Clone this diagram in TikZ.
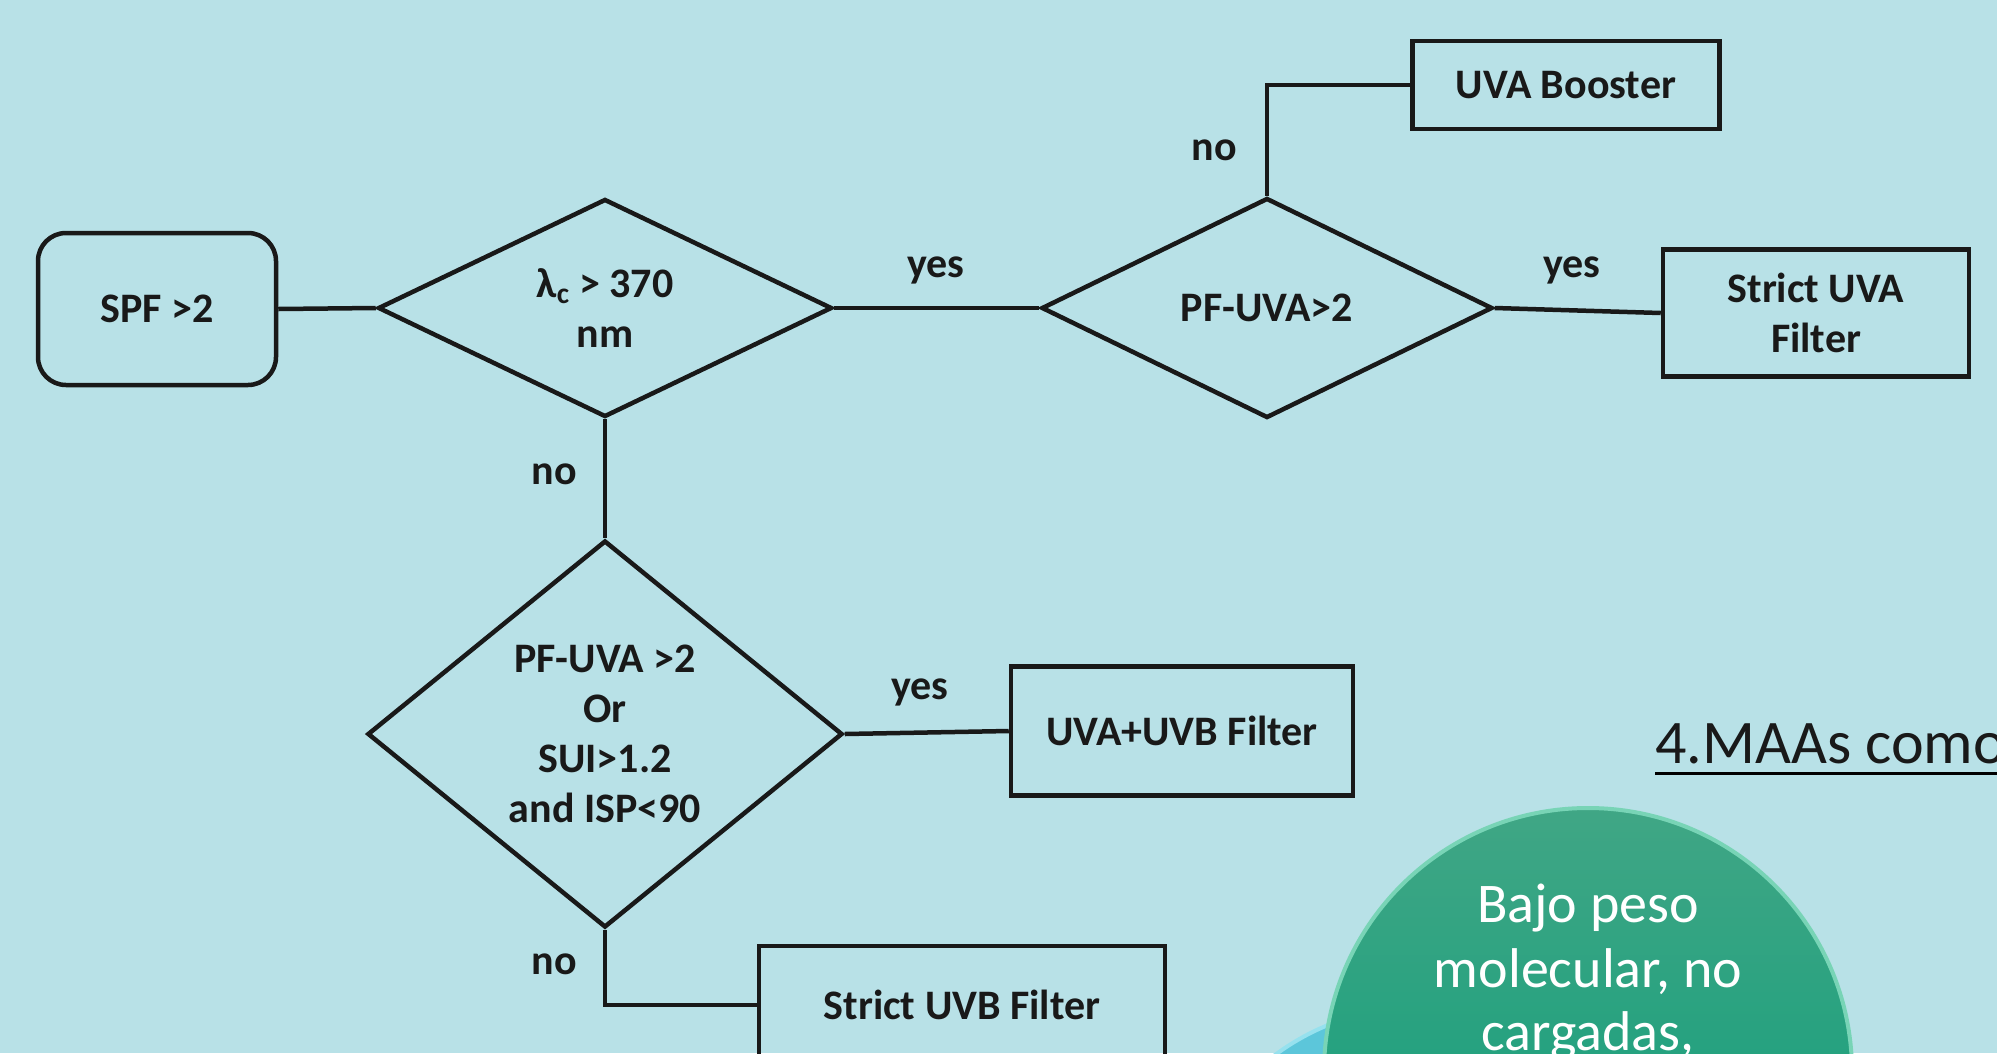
\documentclass[tikz,border=0pt]{standalone}
\usepackage{fontspec}
\setmainfont{Carlito}
\usetikzlibrary{shapes.geometric}
\definecolor{bg}{RGB}{184,225,231}
\definecolor{ink}{RGB}{25,25,25}
\definecolor{gtop}{RGB}{64,166,133}
\definecolor{gbot}{RGB}{8,157,121}
\definecolor{grim}{RGB}{120,212,182}
\definecolor{cyanb}{RGB}{92,198,218}
\definecolor{cyanrim}{RGB}{150,225,238}
\begin{document}
\begin{tikzpicture}[x=1pt,y=-1pt,
  every node/.style={font=\fontsize{42}{50}\selectfont\bfseries, text=ink, inner sep=0pt},
  box/.style={draw=ink, line width=4.5pt, align=center},
  dia/.style={diamond, draw=ink, line width=4.5pt, align=center},
  conn/.style={draw=ink, line width=4.5pt},
  bubbletext/.style={text=white, font=\fontsize{56}{64}\selectfont, anchor=base}]
\fill[bg] (0,0) rectangle (1997,1053);
\useasboundingbox (0,0) rectangle (1997,1053);
\clip (0,0) rectangle (1997,1053);

% flowchart nodes
\node[box, rounded corners=28pt, minimum width=238pt, minimum height=152pt] (spf) at (157,309) {SPF >2};
\node[dia, minimum width=454pt, minimum height=218pt] (d1) at (605,308) {λ\textsubscript{c} > 370\\nm};
\node[dia, minimum width=451pt, minimum height=220pt] (d2) at (1267,308) {PF-UVA>2};
\node[dia, minimum width=475pt, minimum height=387pt] (d3) at (605,734) {PF-UVA >2\\Or\\SUI>1.2\\and ISP<90};
\node[box, minimum width=307pt, minimum height=88pt] (boost) at (1566,85) {UVA Booster};
\node[box, minimum width=306pt, minimum height=127pt] (suva) at (1816,313) {Strict UVA\\Filter};
\node[box, minimum width=342pt, minimum height=129pt] (uvab) at (1182,731) {UVA+UVB Filter};
\node[box, minimum width=406pt, minimum height=118pt] (suvb) at (962,1005) {Strict UVB Filter};

% connectors
\draw[conn] (spf.east) -- (d1.west);
\draw[conn] (d1.east) -- (d2.west);
\draw[conn] (d2.north) |- (boost.west);
\draw[conn] (d2.east) -- (suva.west);
\draw[conn] (d1.south) -- (d3.north);
\draw[conn] (d3.east) -- (uvab.west);
\draw[conn] (d3.south) |- (suvb.west);

% labels
\node (yes1) at (936,270) {yes};
\node (no1) at (1214,150) {no};
\node (yes2) at (1572,270) {yes};
\node (no2) at (554,474) {no};
\node (yes3) at (920,692) {yes};
\node (no3) at (554,964) {no};

% title
\node[anchor=base west, font=\fontsize{62}{70}\selectfont] (title) at (1655,763) {4.MAAs como};
\draw[line width=3pt] ([yshift=-10pt]title.base west) -- ([yshift=-10pt]title.base east);

% bubbles
\fill[cyanb] (1420,1250) circle (243pt);
\draw[cyanrim, line width=4pt] (1420,1250) circle (243pt);
\node[circle, minimum size=528pt, top color=gtop, bottom color=gbot, draw=grim, line width=4pt] (bubble) at (1588,1072) {};
\node[bubbletext] (bt1) at (1588,922) {Bajo peso};
\node[bubbletext] (bt2) at (1588,987) {molecular, no};
\node[bubbletext] (bt3) at (1588,1050) {cargadas,};
\end{tikzpicture}
\end{document}
